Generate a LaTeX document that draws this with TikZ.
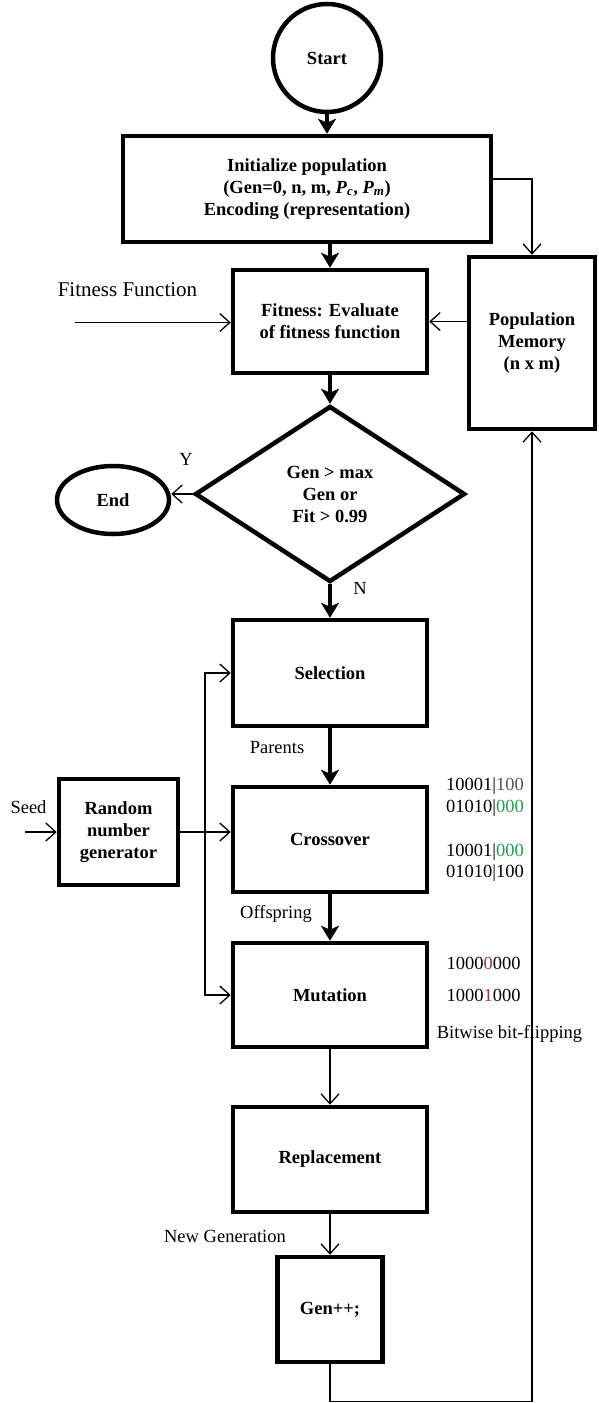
\documentclass[tikz,border=0pt]{standalone}
\usepackage{fontspec}
\setmainfont{Liberation Serif}
\usetikzlibrary{arrows.meta,shapes.geometric}
\definecolor{bitpurple}{HTML}{5B4A72}
\definecolor{bitgreen}{HTML}{1FA04F}
\definecolor{bitred}{HTML}{9B3A3A}
\begin{document}
\begin{tikzpicture}[x=1pt,y=-1pt,
  box/.style={draw, line width=4.5pt, align=center, inner sep=2pt,
    font=\bfseries\fontsize{18.5}{22}\selectfont},
  heavy/.style={line width=4pt, -{Stealth[length=15pt,width=18pt,inset=4pt]}},
  light/.style={line width=1.3pt, -{Straight Barb[length=10pt,width=18pt]}},
  lbl/.style={font=\fontsize{18.5}{22}\selectfont, inner sep=0pt}]
\useasboundingbox (0,0) rectangle (598,1403);

% main flow
\node[box, circle, minimum size=108pt, inner sep=0pt] (start) at (327,58) {Start};
\node[box, minimum width=368pt, minimum height=106pt] (init) at (307,189)
  {Initialize population\\(Gen=0, n, m, \textit{P}\textsubscript{\textit{c}}, \textit{P}\textsubscript{\textit{m}})\\Encoding (representation)};
\node[box, minimum width=194pt, minimum height=103pt] (fit) at (330,321.5)
  {Fitness: Evaluate\\of fitness function};
\node[box, minimum width=126pt, minimum height=172pt] (mem) at (532,343)
  {Population\\Memory\\(n x m)};
\node[box, diamond, minimum width=270pt, minimum height=176pt, inner sep=0pt] (dec) at (330,494)
  {Gen > max\\Gen or\\Fit > 0.99};
\node[box, ellipse, minimum width=112pt, minimum height=68pt, inner sep=0pt] (end) at (113,500) {End};
\node[box, minimum width=194pt, minimum height=106pt] (sel) at (330,673) {Selection};
\node[box, minimum width=119pt, minimum height=106pt] (rng) at (118.5,832)
  {Random\\number\\generator};
\node[box, minimum width=194pt, minimum height=105pt] (cross) at (330,839.5) {Crossover};
\node[box, minimum width=194pt, minimum height=104pt] (mut) at (330,995) {Mutation};
\node[box, minimum width=194pt, minimum height=105pt] (rep) at (330,1159.5) {Replacement};
\node[box, minimum width=105pt, minimum height=105pt] (gen) at (330,1309.5) {Gen++;};

% helper points
\coordinate (ytap) at (0,179);
\coordinate (ffin) at (75,322.5);
\coordinate (seedin) at (25,832);
\coordinate (bus) at (205,832);
\coordinate (loopbot) at (0,1401.5);

% thick arrows along the main flow
\draw[heavy] (start.south) -- (start.south |- init.north);
\draw[heavy] (init.south -| fit.north) -- (fit.north);
\draw[heavy] (fit.south) -- (dec.north);
\draw[heavy] (dec.south) -- (sel.north);
\draw[heavy] (sel.south) -- (cross.north);
\draw[heavy] (cross.south) -- (mut.north);
\draw[light] (mut.south) -- (rep.north);
\draw[light] (rep.south) -- (gen.north);

% side connections
\draw[light] (init.east |- ytap) -| (mem.north);
\draw[light] (mem.west |- fit.east) -- (fit.east);
\draw[light] (ffin) -- (ffin -| fit.west);
\draw[light] (dec.west) -- (dec.west -| end.east);
\draw[light] (seedin) -- (rng.west);
\draw[light] (rng.east) -- (rng.east -| cross.west);
\draw[light] (bus) |- (sel.west);
\draw[light] (bus) |- (mut.west);
\draw[light] (gen.south) -- (gen.south |- loopbot) -| (mem.south);

% labels
\node[lbl, font=\fontsize{21}{24}\selectfont] (fftxt) at (127.5,290) {Fitness Function};
\node[lbl] (ylbl) at (186,459) {Y};
\node[lbl] (nlbl) at (360,588) {N};
\node[lbl] (seed) at (28.5,807) {Seed};
\node[lbl] (par) at (277,748) {Parents};
\node[lbl] (off) at (276,914) {Offspring};
\node[lbl] (newgen) at (225,1236) {New Generation};
\node[lbl] (bitflip) at (509.5,1034) {Bitwise bit-flipping};

% bit strings
\node[lbl] (c1) at (485,786) {10001|\textcolor{bitpurple}{100}};
\node[lbl] (c2) at (485,808) {01010|\textcolor{bitgreen}{000}};
\node[lbl] (c3) at (485,852) {10001|\textcolor{bitgreen}{000}};
\node[lbl] (c4) at (485,873) {01010|100};
\node[lbl] (m1) at (483.5,963) {1000\textcolor{bitred}{0}000};
\node[lbl] (m2) at (483.5,995) {1000\textcolor{bitred}{1}000};
\end{tikzpicture}
\end{document}
